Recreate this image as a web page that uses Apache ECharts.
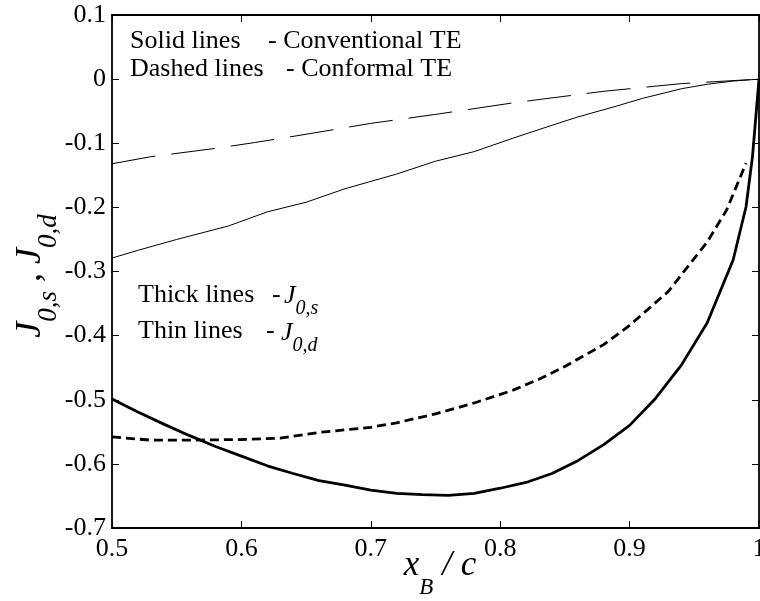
<!DOCTYPE html>
<html lang="en">
<head>
    <meta charset="UTF-8">
    <title>J0 chart</title>
    <script src="https://cdn.jsdelivr.net/npm/echarts@6/dist/echarts.min.js"></script>
    <style>
        html, body { margin: 0; padding: 0; background: #fff; }
        #chart1 { width: 760px; height: 601px; }
    </style>
</head>
<body>
<div id="chart1"></div>
<script type="text/javascript">
    // 读图得到的数据
    var thickSolidX = [0.5, 0.52, 0.54, 0.56, 0.58, 0.60, 0.62, 0.64, 0.66, 0.68, 0.70, 0.72, 0.74, 0.76, 0.78, 0.80, 0.82, 0.84, 0.86, 0.88, 0.90, 0.92, 0.94, 0.96, 0.98, 0.99, 0.995, 1.0];
    var thickSolidY = [-0.499, -0.519, -0.538, -0.556, -0.573, -0.588, -0.603, -0.615, -0.626, -0.633, -0.641, -0.646, -0.648, -0.649, -0.646, -0.638, -0.629, -0.615, -0.595, -0.570, -0.540, -0.498, -0.446, -0.380, -0.282, -0.199, -0.12, 0];

    var thickDashX = [0.5, 0.53, 0.56, 0.60, 0.63, 0.66, 0.70, 0.72, 0.75, 0.78, 0.81, 0.83, 0.85, 0.88, 0.90, 0.93, 0.96, 0.975, 0.99];
    var thickDashY = [-0.558, -0.563, -0.563, -0.562, -0.560, -0.551, -0.543, -0.536, -0.522, -0.505, -0.485, -0.468, -0.448, -0.414, -0.384, -0.331, -0.254, -0.204, -0.131];

    var thinSolidX = [0.5, 0.52, 0.55, 0.59, 0.62, 0.65, 0.68, 0.72, 0.75, 0.78, 0.81, 0.84, 0.86, 0.89, 0.91, 0.94, 0.96, 0.98, 1.0];
    var thinSolidY = [-0.279, -0.267, -0.250, -0.229, -0.207, -0.192, -0.171, -0.148, -0.128, -0.113, -0.092, -0.072, -0.059, -0.042, -0.030, -0.015, -0.008, -0.003, 0];

    var thinDashX = [0.5, 0.53, 0.58, 0.61, 0.65, 0.70, 0.75, 0.81, 0.88, 0.94, 1.0];
    var thinDashY = [-0.132, -0.121, -0.108, -0.099, -0.086, -0.069, -0.055, -0.037, -0.019, -0.007, 0];

    var font = 'Liberation Serif';

    function pairs(xs, ys) {
        return xs.map(function (x, i) { return [x, ys[i]]; });
    }

    function line(name, xs, ys, width, dash) {
        return {
            name: name,
            type: 'line',
            data: pairs(xs, ys),
            symbol: 'none',
            animation: false,
            lineStyle: { color: '#000', width: width, type: dash || 'solid' }
        };
    }

    var sub = function (size, pad) {
        return { fontFamily: font, fontStyle: 'italic', fontSize: size, lineHeight: size, padding: [pad, 0, 0, 0], verticalAlign: 'top', fill: '#000' };
    };
    var main = function (size, italic) {
        return { fontFamily: font, fontStyle: italic ? 'italic' : 'normal', fontSize: size, lineHeight: size + 2, verticalAlign: 'top', fill: '#000' };
    };

    function txt(x, y, s) {
        return { type: 'text', x: x, y: y, style: { text: s, fontFamily: font, fontSize: 26, fill: '#000', verticalAlign: 'middle' } };
    }

    function jsub(x, y, s) {
        return {
            type: 'text', x: x, y: y,
            style: { text: '{j|J}{s|' + s + '}', rich: { j: main(26, true), s: sub(20, 16) } }
        };
    }

    var axisCommon = {
        type: 'value',
        axisLine: { onZero: false, lineStyle: { color: '#000', width: 1.8 } },
        axisTick: { inside: true, length: 7, lineStyle: { color: '#000', width: 1 } },
        splitLine: { show: false },
        axisLabel: { color: '#000', fontFamily: font, fontSize: 26 }
    };

    var myChart1 = echarts.init(document.getElementById('chart1'));
    myChart1.setOption({
        animation: false,
        grid: { left: 112, right: 1, top: 15, bottom: 73, containLabel: false, outerBoundsMode: 'none' },
        xAxis: [
            Object.assign({}, axisCommon, { min: 0.5, max: 1, interval: 0.1, axisLabel: Object.assign({}, axisCommon.axisLabel, { margin: 8 }) }),
            Object.assign({}, axisCommon, { min: 0.5, max: 1, interval: 0.1, position: 'top', axisLabel: { show: false } })
        ],
        yAxis: [
            Object.assign({}, axisCommon, { min: -0.7, max: 0.1, interval: 0.1, axisLabel: Object.assign({}, axisCommon.axisLabel, { margin: 6 }) }),
            Object.assign({}, axisCommon, { min: -0.7, max: 0.1, interval: 0.1, position: 'right', axisLabel: { show: false } })
        ],
        series: [
            line('Thin dashed', thinDashX, thinDashY, 1, [44, 16]),
            line('Thin solid', thinSolidX, thinSolidY, 1),
            line('Thick dashed', thickDashX, thickDashY, 2.8, [9, 5]),
            line('Thick solid', thickSolidX, thickSolidY, 2.8)
        ],
        graphic: [
            txt(130, 41, 'Solid lines'),
            txt(268, 41, '- Conventional TE'),
            txt(130, 69, 'Dashed lines'),
            txt(286, 69, '- Conformal TE'),
            txt(138, 295, 'Thick lines'),
            txt(272, 295, '-'),
            jsub(284, 283, '0,s'),
            txt(138, 331, 'Thin lines'),
            txt(266, 331, '-'),
            jsub(281, 320, '0,d'),
            {
                type: 'text', x: 440, y: 548,
                style: {
                    text: '{m|x}{s|B}{m| / c}', align: 'center', verticalAlign: 'top',
                    rich: { m: main(35, true), s: sub(23, 28) }
                }
            },
            {
                type: 'text', x: 13, y: 276, rotation: Math.PI / 2,
                style: {
                    text: '{m|J}{s|0,s}{m| , J}{s|0,d}', align: 'center', verticalAlign: 'top',
                    rich: { m: main(36, true), s: sub(27, 22) }
                }
            }
        ]
    });
</script>
</body>
</html>
